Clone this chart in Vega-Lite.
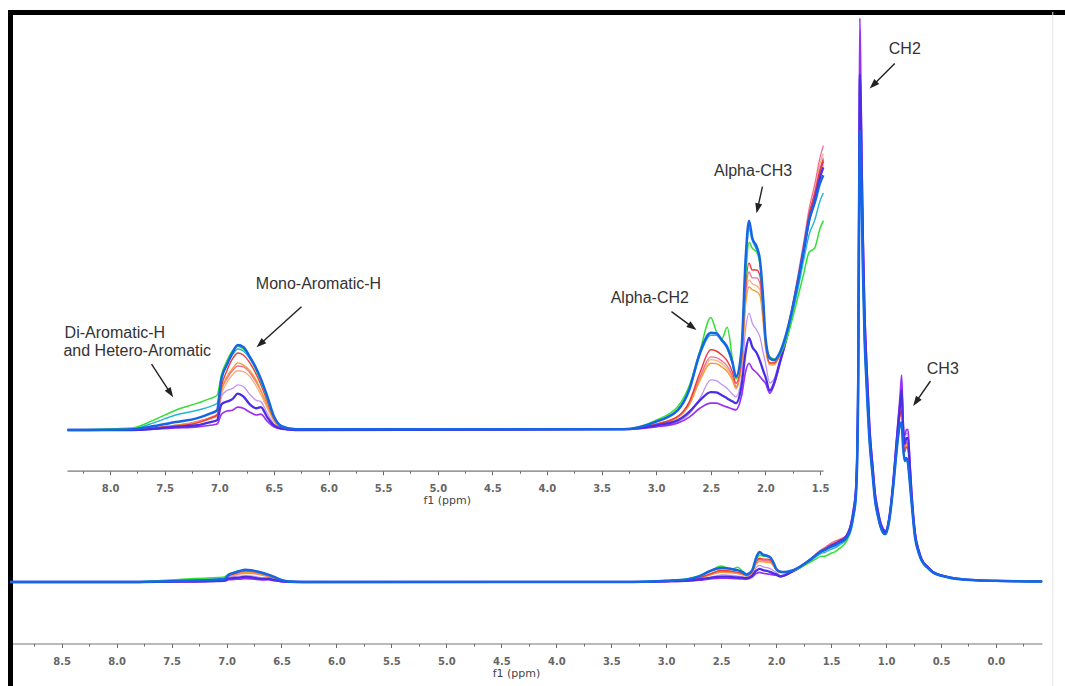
{
"$schema":"https://vega.github.io/schema/vega-lite/v6.json",
"width":1055,"height":674,
"autosize":{"type":"none"},
"padding":{"left":10,"top":12,"right":0,"bottom":0},
"background":"white",
"config":{"view":{"stroke":null},"axis":{"grid":false}},
"datasets":{
"spec":[
{"s":"a","x":8.97,"y":0},{"s":"a","x":8.39,"y":0},{"s":"a","x":7.8,"y":0},{"s":"a","x":7.6,"y":0.05},{"s":"a","x":7.4,"y":0.1},{"s":"a","x":7.2,"y":0.18},{"s":"a","x":7.08,"y":0.28},{"s":"a","x":7.02,"y":0.35},{"s":"a","x":6.98,"y":0.9},{"s":"a","x":6.93,"y":1.2},{"s":"a","x":6.88,"y":1.4},{"s":"a","x":6.83,"y":1.5},{"s":"a","x":6.78,"y":1.48},{"s":"a","x":6.72,"y":1.35},{"s":"a","x":6.66,"y":1.1},{"s":"a","x":6.62,"y":0.9},{"s":"a","x":6.56,"y":0.55},{"s":"a","x":6.5,"y":0.22},{"s":"a","x":6.43,"y":0.06},{"s":"a","x":6.3,"y":0},
{"s":"a","x":3.3,"y":0.02},{"s":"a","x":3.0,"y":0.14},{"s":"a","x":2.8,"y":0.33},{"s":"a","x":2.7,"y":0.64},{"s":"a","x":2.6,"y":1.3},{"s":"a","x":2.5,"y":1.78},{"s":"a","x":2.45,"y":1.76},{"s":"a","x":2.4,"y":1.68},{"s":"a","x":2.35,"y":1.55},{"s":"a","x":2.3,"y":1.3},{"s":"a","x":2.27,"y":1.08},{"s":"a","x":2.22,"y":1.65},{"s":"a","x":2.18,"y":3.35},{"s":"a","x":2.15,"y":3.8},{"s":"a","x":2.12,"y":3.7},{"s":"a","x":2.08,"y":3.65},{"s":"a","x":2.05,"y":3.55},{"s":"a","x":2.02,"y":2.8},{"s":"a","x":2.0,"y":2.15},{"s":"a","x":1.96,"y":1.68},{"s":"a","x":1.92,"y":1.68},{"s":"a","x":1.87,"y":1.9},{"s":"a","x":1.8,"y":2.5},{"s":"a","x":1.75,"y":3.15},{"s":"a","x":1.7,"y":3.9},{"s":"a","x":1.65,"y":4.65},{"s":"a","x":1.6,"y":5.5},{"s":"a","x":1.55,"y":6.05},{"s":"a","x":1.5,"y":6.75},{"s":"a","x":1.47,"y":7.0},
{"s":"a","x":1.42,"y":7.5},{"s":"a","x":1.36,"y":8.1},{"s":"a","x":1.32,"y":9.8},{"s":"a","x":1.295,"y":12.4},{"s":"a","x":1.275,"y":15.6},{"s":"a","x":1.262,"y":22.9},{"s":"a","x":1.253,"y":36.5},{"s":"a","x":1.246,"y":63},{"s":"a","x":1.238,"y":83},{"s":"a","x":1.23,"y":78.5},{"s":"a","x":1.22,"y":68.5},{"s":"a","x":1.21,"y":57},{"s":"a","x":1.195,"y":44.7},{"s":"a","x":1.177,"y":36.3},{"s":"a","x":1.15,"y":26},{"s":"a","x":1.12,"y":19.2},{"s":"a","x":1.1,"y":15},{"s":"a","x":1.075,"y":12.2},{"s":"a","x":1.05,"y":10.1},{"s":"a","x":1.02,"y":8.8},{"s":"a","x":1.005,"y":8.75},
{"s":"a","x":0.97,"y":11.2},{"s":"a","x":0.934,"y":17.4},{"s":"a","x":0.91,"y":22.8},{"s":"a","x":0.889,"y":27.3},{"s":"a","x":0.872,"y":30.4},{"s":"a","x":0.858,"y":32},{"s":"a","x":0.845,"y":26.9},{"s":"a","x":0.83,"y":23.6},{"s":"a","x":0.815,"y":24.6},{"s":"a","x":0.8,"y":24.1},{"s":"a","x":0.785,"y":19.9},{"s":"a","x":0.767,"y":15},{"s":"a","x":0.737,"y":8.5},{"s":"a","x":0.7,"y":5.2},{"s":"a","x":0.676,"y":3.9},{"s":"a","x":0.62,"y":2.55},{"s":"a","x":0.573,"y":1.75},{"s":"a","x":0.45,"y":0.92},{"s":"a","x":0.27,"y":0.41},{"s":"a","x":0,"y":0.2},{"s":"a","x":-0.42,"y":0.1},

{"s":"b","x":8.97,"y":0},{"s":"b","x":8.39,"y":0},{"s":"b","x":7.8,"y":0},{"s":"b","x":7.6,"y":0.05},{"s":"b","x":7.4,"y":0.12},{"s":"b","x":7.2,"y":0.22},{"s":"b","x":7.08,"y":0.32},{"s":"b","x":7.02,"y":0.4},{"s":"b","x":6.98,"y":1.0},{"s":"b","x":6.93,"y":1.3},{"s":"b","x":6.88,"y":1.5},{"s":"b","x":6.83,"y":1.62},{"s":"b","x":6.78,"y":1.6},{"s":"b","x":6.72,"y":1.45},{"s":"b","x":6.66,"y":1.2},{"s":"b","x":6.62,"y":1.0},{"s":"b","x":6.56,"y":0.62},{"s":"b","x":6.5,"y":0.3},{"s":"b","x":6.43,"y":0.1},{"s":"b","x":6.3,"y":0},
{"s":"b","x":3.3,"y":0.02},{"s":"b","x":3.0,"y":0.15},{"s":"b","x":2.8,"y":0.34},{"s":"b","x":2.7,"y":0.66},{"s":"b","x":2.6,"y":1.35},{"s":"b","x":2.5,"y":1.85},{"s":"b","x":2.45,"y":1.83},{"s":"b","x":2.4,"y":1.75},{"s":"b","x":2.35,"y":1.62},{"s":"b","x":2.3,"y":1.35},{"s":"b","x":2.27,"y":1.1},{"s":"b","x":2.22,"y":1.7},{"s":"b","x":2.18,"y":3.5},{"s":"b","x":2.15,"y":4.0},{"s":"b","x":2.12,"y":3.85},{"s":"b","x":2.08,"y":3.85},{"s":"b","x":2.05,"y":3.7},{"s":"b","x":2.02,"y":2.85},{"s":"b","x":2.0,"y":2.2},{"s":"b","x":1.96,"y":1.7},{"s":"b","x":1.92,"y":1.7},{"s":"b","x":1.87,"y":1.9},{"s":"b","x":1.8,"y":2.55},{"s":"b","x":1.75,"y":3.2},{"s":"b","x":1.7,"y":3.95},{"s":"b","x":1.65,"y":4.75},{"s":"b","x":1.6,"y":5.6},{"s":"b","x":1.55,"y":6.2},{"s":"b","x":1.5,"y":6.9},{"s":"b","x":1.47,"y":7.2},
{"s":"b","x":1.42,"y":7.6},{"s":"b","x":1.36,"y":8.2},{"s":"b","x":1.32,"y":9.9},{"s":"b","x":1.295,"y":12.5},{"s":"b","x":1.275,"y":15.7},{"s":"b","x":1.262,"y":23.1},{"s":"b","x":1.253,"y":36.8},{"s":"b","x":1.246,"y":63.5},{"s":"b","x":1.238,"y":84},{"s":"b","x":1.23,"y":79},{"s":"b","x":1.22,"y":69},{"s":"b","x":1.21,"y":57.3},{"s":"b","x":1.195,"y":45},{"s":"b","x":1.177,"y":36.5},{"s":"b","x":1.15,"y":26.1},{"s":"b","x":1.12,"y":19.3},{"s":"b","x":1.1,"y":15.1},{"s":"b","x":1.075,"y":12.3},{"s":"b","x":1.05,"y":10.2},{"s":"b","x":1.02,"y":8.9},{"s":"b","x":1.005,"y":8.8},
{"s":"b","x":0.97,"y":11.3},{"s":"b","x":0.934,"y":17.5},{"s":"b","x":0.91,"y":22.9},{"s":"b","x":0.889,"y":27.4},{"s":"b","x":0.872,"y":30.6},{"s":"b","x":0.858,"y":32.3},{"s":"b","x":0.845,"y":27},{"s":"b","x":0.83,"y":23.7},{"s":"b","x":0.815,"y":24.8},{"s":"b","x":0.8,"y":24.3},{"s":"b","x":0.785,"y":20},{"s":"b","x":0.767,"y":15.1},{"s":"b","x":0.737,"y":8.5},{"s":"b","x":0.7,"y":5.25},{"s":"b","x":0.676,"y":3.9},{"s":"b","x":0.62,"y":2.55},{"s":"b","x":0.573,"y":1.75},{"s":"b","x":0.45,"y":0.92},{"s":"b","x":0.27,"y":0.41},{"s":"b","x":0,"y":0.2},{"s":"b","x":-0.42,"y":0.1},

{"s":"c","x":8.97,"y":0},{"s":"c","x":8.39,"y":0},{"s":"c","x":7.8,"y":0},{"s":"c","x":7.6,"y":0.03},{"s":"c","x":7.4,"y":0.08},{"s":"c","x":7.2,"y":0.12},{"s":"c","x":7.08,"y":0.2},{"s":"c","x":7.02,"y":0.25},{"s":"c","x":6.98,"y":0.85},{"s":"c","x":6.93,"y":1.0},{"s":"c","x":6.88,"y":1.05},{"s":"c","x":6.83,"y":1.14},{"s":"c","x":6.78,"y":1.1},{"s":"c","x":6.72,"y":0.9},{"s":"c","x":6.66,"y":0.75},{"s":"c","x":6.62,"y":0.72},{"s":"c","x":6.56,"y":0.42},{"s":"c","x":6.5,"y":0.15},{"s":"c","x":6.43,"y":0.04},{"s":"c","x":6.3,"y":0},
{"s":"c","x":3.3,"y":0.02},{"s":"c","x":3.0,"y":0.1},{"s":"c","x":2.8,"y":0.22},{"s":"c","x":2.7,"y":0.4},{"s":"c","x":2.6,"y":0.8},{"s":"c","x":2.5,"y":1.27},{"s":"c","x":2.45,"y":1.25},{"s":"c","x":2.4,"y":1.15},{"s":"c","x":2.35,"y":1.05},{"s":"c","x":2.3,"y":0.9},{"s":"c","x":2.27,"y":0.84},{"s":"c","x":2.22,"y":1.3},{"s":"c","x":2.18,"y":2.6},{"s":"c","x":2.15,"y":2.96},{"s":"c","x":2.12,"y":2.7},{"s":"c","x":2.08,"y":2.53},{"s":"c","x":2.05,"y":2.35},{"s":"c","x":2.02,"y":1.95},{"s":"c","x":2.0,"y":1.7},{"s":"c","x":1.96,"y":1.19},{"s":"c","x":1.92,"y":1.3},{"s":"c","x":1.87,"y":1.75},{"s":"c","x":1.8,"y":2.45},{"s":"c","x":1.75,"y":3.1},{"s":"c","x":1.7,"y":3.8},{"s":"c","x":1.65,"y":4.55},{"s":"c","x":1.6,"y":5.4},{"s":"c","x":1.55,"y":5.9},{"s":"c","x":1.5,"y":6.55},{"s":"c","x":1.47,"y":6.9},
{"s":"c","x":1.42,"y":7.4},{"s":"c","x":1.36,"y":8.2},{"s":"c","x":1.32,"y":10.2},{"s":"c","x":1.295,"y":12.9},{"s":"c","x":1.275,"y":16.3},{"s":"c","x":1.262,"y":24},{"s":"c","x":1.253,"y":39},{"s":"c","x":1.246,"y":69},{"s":"c","x":1.238,"y":93},{"s":"c","x":1.23,"y":86.5},{"s":"c","x":1.22,"y":74},{"s":"c","x":1.21,"y":61.5},{"s":"c","x":1.195,"y":48},{"s":"c","x":1.177,"y":38.8},{"s":"c","x":1.15,"y":27.5},{"s":"c","x":1.12,"y":20.2},{"s":"c","x":1.1,"y":15.7},{"s":"c","x":1.075,"y":12.7},{"s":"c","x":1.05,"y":10.5},{"s":"c","x":1.02,"y":9.2},{"s":"c","x":1.005,"y":9.0},
{"s":"c","x":0.97,"y":11.5},{"s":"c","x":0.934,"y":17.9},{"s":"c","x":0.91,"y":23.7},{"s":"c","x":0.889,"y":28.5},{"s":"c","x":0.872,"y":32.2},{"s":"c","x":0.858,"y":35.2},{"s":"c","x":0.845,"y":28.3},{"s":"c","x":0.83,"y":25.3},{"s":"c","x":0.815,"y":26.3},{"s":"c","x":0.8,"y":26.3},{"s":"c","x":0.785,"y":21.5},{"s":"c","x":0.767,"y":15.7},{"s":"c","x":0.737,"y":8.8},{"s":"c","x":0.7,"y":5.4},{"s":"c","x":0.676,"y":4.05},{"s":"c","x":0.62,"y":2.65},{"s":"c","x":0.573,"y":1.8},{"s":"c","x":0.45,"y":0.95},{"s":"c","x":0.27,"y":0.42},{"s":"c","x":0,"y":0.2},{"s":"c","x":-0.42,"y":0.1},

{"s":"d","x":8.97,"y":0},{"s":"d","x":8.39,"y":0},{"s":"d","x":7.8,"y":0},{"s":"d","x":7.6,"y":0.02},{"s":"d","x":7.4,"y":0.05},{"s":"d","x":7.2,"y":0.08},{"s":"d","x":7.08,"y":0.12},{"s":"d","x":7.02,"y":0.15},{"s":"d","x":6.98,"y":0.4},{"s":"d","x":6.93,"y":0.48},{"s":"d","x":6.88,"y":0.5},{"s":"d","x":6.83,"y":0.58},{"s":"d","x":6.78,"y":0.55},{"s":"d","x":6.72,"y":0.45},{"s":"d","x":6.66,"y":0.38},{"s":"d","x":6.62,"y":0.4},{"s":"d","x":6.56,"y":0.22},{"s":"d","x":6.5,"y":0.08},{"s":"d","x":6.43,"y":0.02},{"s":"d","x":6.3,"y":0},
{"s":"d","x":3.3,"y":0.02},{"s":"d","x":3.0,"y":0.08},{"s":"d","x":2.8,"y":0.18},{"s":"d","x":2.7,"y":0.32},{"s":"d","x":2.6,"y":0.55},{"s":"d","x":2.5,"y":0.68},{"s":"d","x":2.45,"y":0.68},{"s":"d","x":2.4,"y":0.63},{"s":"d","x":2.35,"y":0.58},{"s":"d","x":2.3,"y":0.53},{"s":"d","x":2.27,"y":0.51},{"s":"d","x":2.22,"y":0.85},{"s":"d","x":2.18,"y":1.5},{"s":"d","x":2.15,"y":1.69},{"s":"d","x":2.12,"y":1.55},{"s":"d","x":2.08,"y":1.45},{"s":"d","x":2.05,"y":1.35},{"s":"d","x":2.02,"y":1.25},{"s":"d","x":2.0,"y":1.19},{"s":"d","x":1.96,"y":0.93},{"s":"d","x":1.92,"y":1.15},{"s":"d","x":1.87,"y":1.65},{"s":"d","x":1.8,"y":2.4},{"s":"d","x":1.75,"y":3.1},{"s":"d","x":1.7,"y":3.8},{"s":"d","x":1.65,"y":4.6},{"s":"d","x":1.6,"y":5.4},{"s":"d","x":1.55,"y":5.95},{"s":"d","x":1.5,"y":6.5},{"s":"d","x":1.47,"y":6.8},
{"s":"d","x":1.42,"y":7.3},{"s":"d","x":1.36,"y":8.3},{"s":"d","x":1.32,"y":10.3},{"s":"d","x":1.295,"y":13.1},{"s":"d","x":1.275,"y":16.6},{"s":"d","x":1.262,"y":24.5},{"s":"d","x":1.253,"y":40},{"s":"d","x":1.246,"y":72},{"s":"d","x":1.238,"y":100},{"s":"d","x":1.23,"y":90},{"s":"d","x":1.22,"y":76},{"s":"d","x":1.21,"y":63},{"s":"d","x":1.195,"y":49},{"s":"d","x":1.177,"y":39.5},{"s":"d","x":1.15,"y":28},{"s":"d","x":1.12,"y":20.5},{"s":"d","x":1.1,"y":16},{"s":"d","x":1.075,"y":13},{"s":"d","x":1.05,"y":10.7},{"s":"d","x":1.02,"y":9.3},{"s":"d","x":1.005,"y":9.1},
{"s":"d","x":0.97,"y":11.6},{"s":"d","x":0.934,"y":18},{"s":"d","x":0.91,"y":24},{"s":"d","x":0.889,"y":29},{"s":"d","x":0.872,"y":33},{"s":"d","x":0.858,"y":36.7},{"s":"d","x":0.845,"y":29},{"s":"d","x":0.83,"y":26},{"s":"d","x":0.815,"y":27},{"s":"d","x":0.8,"y":27},{"s":"d","x":0.785,"y":22},{"s":"d","x":0.767,"y":16},{"s":"d","x":0.737,"y":9},{"s":"d","x":0.7,"y":5.5},{"s":"d","x":0.676,"y":4.1},{"s":"d","x":0.62,"y":2.7},{"s":"d","x":0.573,"y":1.8},{"s":"d","x":0.45,"y":0.95},{"s":"d","x":0.27,"y":0.42},{"s":"d","x":0,"y":0.2},{"s":"d","x":-0.42,"y":0.1},

{"s":"e","x":8.97,"y":0},{"s":"e","x":8.39,"y":0},{"s":"e","x":7.8,"y":0},{"s":"e","x":7.6,"y":0.05},{"s":"e","x":7.4,"y":0.12},{"s":"e","x":7.2,"y":0.2},{"s":"e","x":7.08,"y":0.3},{"s":"e","x":7.02,"y":0.36},{"s":"e","x":6.98,"y":1.0},{"s":"e","x":6.93,"y":1.35},{"s":"e","x":6.88,"y":1.55},{"s":"e","x":6.83,"y":1.7},{"s":"e","x":6.78,"y":1.65},{"s":"e","x":6.72,"y":1.5},{"s":"e","x":6.66,"y":1.25},{"s":"e","x":6.62,"y":1.0},{"s":"e","x":6.56,"y":0.62},{"s":"e","x":6.5,"y":0.25},{"s":"e","x":6.43,"y":0.06},{"s":"e","x":6.3,"y":0},
{"s":"e","x":3.3,"y":0.02},{"s":"e","x":3.0,"y":0.14},{"s":"e","x":2.8,"y":0.32},{"s":"e","x":2.7,"y":0.62},{"s":"e","x":2.6,"y":1.25},{"s":"e","x":2.5,"y":1.69},{"s":"e","x":2.45,"y":1.68},{"s":"e","x":2.4,"y":1.6},{"s":"e","x":2.35,"y":1.48},{"s":"e","x":2.3,"y":1.25},{"s":"e","x":2.27,"y":1.05},{"s":"e","x":2.22,"y":1.6},{"s":"e","x":2.18,"y":3.2},{"s":"e","x":2.15,"y":3.62},{"s":"e","x":2.12,"y":3.55},{"s":"e","x":2.08,"y":3.5},{"s":"e","x":2.05,"y":3.4},{"s":"e","x":2.02,"y":2.7},{"s":"e","x":2.0,"y":2.1},{"s":"e","x":1.96,"y":1.65},{"s":"e","x":1.92,"y":1.65},{"s":"e","x":1.87,"y":1.88},{"s":"e","x":1.8,"y":2.5},{"s":"e","x":1.75,"y":3.1},{"s":"e","x":1.7,"y":3.8},{"s":"e","x":1.65,"y":4.55},{"s":"e","x":1.6,"y":5.35},{"s":"e","x":1.55,"y":5.85},{"s":"e","x":1.5,"y":6.45},{"s":"e","x":1.47,"y":6.7},
{"s":"e","x":1.42,"y":7.2},{"s":"e","x":1.36,"y":8.0},{"s":"e","x":1.32,"y":9.7},{"s":"e","x":1.295,"y":12.3},{"s":"e","x":1.275,"y":15.4},{"s":"e","x":1.262,"y":22.7},{"s":"e","x":1.253,"y":36},{"s":"e","x":1.246,"y":62},{"s":"e","x":1.238,"y":82},{"s":"e","x":1.23,"y":77.5},{"s":"e","x":1.22,"y":67.5},{"s":"e","x":1.21,"y":56.3},{"s":"e","x":1.195,"y":44.1},{"s":"e","x":1.177,"y":35.8},{"s":"e","x":1.15,"y":25.7},{"s":"e","x":1.12,"y":19},{"s":"e","x":1.1,"y":14.9},{"s":"e","x":1.075,"y":12.1},{"s":"e","x":1.05,"y":10.0},{"s":"e","x":1.02,"y":8.8},{"s":"e","x":1.005,"y":8.7},
{"s":"e","x":0.97,"y":11.2},{"s":"e","x":0.934,"y":17.4},{"s":"e","x":0.91,"y":22.7},{"s":"e","x":0.889,"y":27.2},{"s":"e","x":0.872,"y":30.3},{"s":"e","x":0.858,"y":31.9},{"s":"e","x":0.845,"y":26.8},{"s":"e","x":0.83,"y":23.5},{"s":"e","x":0.815,"y":24.5},{"s":"e","x":0.8,"y":24},{"s":"e","x":0.785,"y":19.8},{"s":"e","x":0.767,"y":15},{"s":"e","x":0.737,"y":8.5},{"s":"e","x":0.7,"y":5.2},{"s":"e","x":0.676,"y":3.9},{"s":"e","x":0.62,"y":2.55},{"s":"e","x":0.573,"y":1.75},{"s":"e","x":0.45,"y":0.92},{"s":"e","x":0.27,"y":0.41},{"s":"e","x":0,"y":0.2},{"s":"e","x":-0.42,"y":0.1},

{"s":"f","x":8.97,"y":0},{"s":"f","x":8.39,"y":0},{"s":"f","x":7.8,"y":0},{"s":"f","x":7.6,"y":0.05},{"s":"f","x":7.4,"y":0.1},{"s":"f","x":7.2,"y":0.18},{"s":"f","x":7.08,"y":0.3},{"s":"f","x":7.02,"y":0.38},{"s":"f","x":6.98,"y":1.1},{"s":"f","x":6.93,"y":1.5},{"s":"f","x":6.88,"y":1.8},{"s":"f","x":6.83,"y":1.95},{"s":"f","x":6.78,"y":1.9},{"s":"f","x":6.72,"y":1.7},{"s":"f","x":6.66,"y":1.4},{"s":"f","x":6.62,"y":1.15},{"s":"f","x":6.56,"y":0.72},{"s":"f","x":6.5,"y":0.3},{"s":"f","x":6.43,"y":0.08},{"s":"f","x":6.3,"y":0},
{"s":"f","x":3.3,"y":0.02},{"s":"f","x":3.0,"y":0.15},{"s":"f","x":2.8,"y":0.35},{"s":"f","x":2.7,"y":0.7},{"s":"f","x":2.6,"y":1.45},{"s":"f","x":2.5,"y":2.03},{"s":"f","x":2.45,"y":2.0},{"s":"f","x":2.4,"y":1.9},{"s":"f","x":2.35,"y":1.75},{"s":"f","x":2.3,"y":1.45},{"s":"f","x":2.27,"y":1.18},{"s":"f","x":2.22,"y":1.8},{"s":"f","x":2.18,"y":3.7},{"s":"f","x":2.15,"y":4.22},{"s":"f","x":2.12,"y":4.05},{"s":"f","x":2.08,"y":4.05},{"s":"f","x":2.05,"y":3.9},{"s":"f","x":2.02,"y":3.0},{"s":"f","x":2.0,"y":2.28},{"s":"f","x":1.96,"y":1.7},{"s":"f","x":1.92,"y":1.7},{"s":"f","x":1.87,"y":1.9},{"s":"f","x":1.8,"y":2.5},{"s":"f","x":1.75,"y":3.15},{"s":"f","x":1.7,"y":3.85},{"s":"f","x":1.65,"y":4.6},{"s":"f","x":1.6,"y":5.45},{"s":"f","x":1.55,"y":5.95},{"s":"f","x":1.5,"y":6.6},{"s":"f","x":1.47,"y":6.85},
{"s":"f","x":1.42,"y":7.4},{"s":"f","x":1.36,"y":8.1},{"s":"f","x":1.32,"y":9.8},{"s":"f","x":1.295,"y":12.4},{"s":"f","x":1.275,"y":15.5},{"s":"f","x":1.262,"y":22.8},{"s":"f","x":1.253,"y":36.2},{"s":"f","x":1.246,"y":62.5},{"s":"f","x":1.238,"y":82},{"s":"f","x":1.23,"y":77.5},{"s":"f","x":1.22,"y":68},{"s":"f","x":1.21,"y":56.5},{"s":"f","x":1.195,"y":44.3},{"s":"f","x":1.177,"y":36},{"s":"f","x":1.15,"y":25.8},{"s":"f","x":1.12,"y":19.1},{"s":"f","x":1.1,"y":15},{"s":"f","x":1.075,"y":12.2},{"s":"f","x":1.05,"y":10.1},{"s":"f","x":1.02,"y":8.8},{"s":"f","x":1.005,"y":8.7},
{"s":"f","x":0.97,"y":11.2},{"s":"f","x":0.934,"y":17.3},{"s":"f","x":0.91,"y":22.5},{"s":"f","x":0.889,"y":26.8},{"s":"f","x":0.872,"y":29.5},{"s":"f","x":0.858,"y":30.5},{"s":"f","x":0.845,"y":26},{"s":"f","x":0.83,"y":23},{"s":"f","x":0.815,"y":24},{"s":"f","x":0.8,"y":23.5},{"s":"f","x":0.785,"y":19.5},{"s":"f","x":0.767,"y":14.8},{"s":"f","x":0.737,"y":8.4},{"s":"f","x":0.7,"y":5.2},{"s":"f","x":0.676,"y":3.9},{"s":"f","x":0.62,"y":2.55},{"s":"f","x":0.573,"y":1.75},{"s":"f","x":0.45,"y":0.92},{"s":"f","x":0.27,"y":0.41},{"s":"f","x":0,"y":0.2},{"s":"f","x":-0.42,"y":0.1},

{"s":"g","x":8.97,"y":0},{"s":"g","x":8.39,"y":0},{"s":"g","x":7.8,"y":0},{"s":"g","x":7.6,"y":0.03},{"s":"g","x":7.4,"y":0.08},{"s":"g","x":7.2,"y":0.12},{"s":"g","x":7.08,"y":0.2},{"s":"g","x":7.02,"y":0.25},{"s":"g","x":6.98,"y":0.65},{"s":"g","x":6.93,"y":0.72},{"s":"g","x":6.88,"y":0.78},{"s":"g","x":6.83,"y":0.92},{"s":"g","x":6.78,"y":0.85},{"s":"g","x":6.72,"y":0.65},{"s":"g","x":6.66,"y":0.55},{"s":"g","x":6.62,"y":0.58},{"s":"g","x":6.56,"y":0.32},{"s":"g","x":6.5,"y":0.12},{"s":"g","x":6.43,"y":0.04},{"s":"g","x":6.3,"y":0},
{"s":"g","x":3.3,"y":0.02},{"s":"g","x":3.0,"y":0.12},{"s":"g","x":2.8,"y":0.25},{"s":"g","x":2.7,"y":0.45},{"s":"g","x":2.6,"y":0.75},{"s":"g","x":2.5,"y":0.96},{"s":"g","x":2.45,"y":0.95},{"s":"g","x":2.4,"y":0.88},{"s":"g","x":2.35,"y":0.8},{"s":"g","x":2.3,"y":0.72},{"s":"g","x":2.27,"y":0.68},{"s":"g","x":2.22,"y":1.1},{"s":"g","x":2.18,"y":2.0},{"s":"g","x":2.15,"y":2.33},{"s":"g","x":2.12,"y":2.1},{"s":"g","x":2.08,"y":1.95},{"s":"g","x":2.05,"y":1.75},{"s":"g","x":2.02,"y":1.5},{"s":"g","x":2.0,"y":1.35},{"s":"g","x":1.96,"y":1.0},{"s":"g","x":1.92,"y":1.2},{"s":"g","x":1.87,"y":1.7},{"s":"g","x":1.8,"y":2.4},{"s":"g","x":1.75,"y":3.05},{"s":"g","x":1.7,"y":3.75},{"s":"g","x":1.65,"y":4.5},{"s":"g","x":1.6,"y":5.3},{"s":"g","x":1.55,"y":5.8},{"s":"g","x":1.5,"y":6.4},{"s":"g","x":1.47,"y":6.65},
{"s":"g","x":1.42,"y":7.2},{"s":"g","x":1.36,"y":8.1},{"s":"g","x":1.32,"y":10},{"s":"g","x":1.295,"y":12.7},{"s":"g","x":1.275,"y":16},{"s":"g","x":1.262,"y":23.5},{"s":"g","x":1.253,"y":38},{"s":"g","x":1.246,"y":66},{"s":"g","x":1.238,"y":90},{"s":"g","x":1.23,"y":84},{"s":"g","x":1.22,"y":72},{"s":"g","x":1.21,"y":60},{"s":"g","x":1.195,"y":47},{"s":"g","x":1.177,"y":38},{"s":"g","x":1.15,"y":27},{"s":"g","x":1.12,"y":19.8},{"s":"g","x":1.1,"y":15.4},{"s":"g","x":1.075,"y":12.5},{"s":"g","x":1.05,"y":10.3},{"s":"g","x":1.02,"y":9.0},{"s":"g","x":1.005,"y":8.9},
{"s":"g","x":0.97,"y":11.5},{"s":"g","x":0.934,"y":17.8},{"s":"g","x":0.91,"y":23.3},{"s":"g","x":0.889,"y":28},{"s":"g","x":0.872,"y":31.5},{"s":"g","x":0.858,"y":34},{"s":"g","x":0.845,"y":27.5},{"s":"g","x":0.83,"y":24.5},{"s":"g","x":0.815,"y":25.5},{"s":"g","x":0.8,"y":25.5},{"s":"g","x":0.785,"y":21},{"s":"g","x":0.767,"y":15.5},{"s":"g","x":0.737,"y":8.7},{"s":"g","x":0.7,"y":5.4},{"s":"g","x":0.676,"y":4.0},{"s":"g","x":0.62,"y":2.65},{"s":"g","x":0.573,"y":1.8},{"s":"g","x":0.45,"y":0.95},{"s":"g","x":0.27,"y":0.42},{"s":"g","x":0,"y":0.2},{"s":"g","x":-0.42,"y":0.1},

{"s":"h","x":8.97,"y":0},{"s":"h","x":8.39,"y":0},{"s":"h","x":7.8,"y":0.03},{"s":"h","x":7.6,"y":0.18},{"s":"h","x":7.4,"y":0.38},{"s":"h","x":7.2,"y":0.5},{"s":"h","x":7.08,"y":0.6},{"s":"h","x":7.02,"y":0.68},{"s":"h","x":6.98,"y":1.3},{"s":"h","x":6.93,"y":1.65},{"s":"h","x":6.88,"y":1.9},{"s":"h","x":6.83,"y":2.05},{"s":"h","x":6.78,"y":2.0},{"s":"h","x":6.72,"y":1.8},{"s":"h","x":6.66,"y":1.5},{"s":"h","x":6.62,"y":1.25},{"s":"h","x":6.56,"y":0.8},{"s":"h","x":6.5,"y":0.33},{"s":"h","x":6.43,"y":0.1},{"s":"h","x":6.3,"y":0.02},
{"s":"h","x":3.3,"y":0.02},{"s":"h","x":3.0,"y":0.22},{"s":"h","x":2.8,"y":0.52},{"s":"h","x":2.7,"y":1.0},{"s":"h","x":2.6,"y":1.9},{"s":"h","x":2.5,"y":2.4},{"s":"h","x":2.45,"y":2.4},{"s":"h","x":2.4,"y":2.25},{"s":"h","x":2.35,"y":2.05},{"s":"h","x":2.3,"y":1.65},{"s":"h","x":2.27,"y":1.3},{"s":"h","x":2.22,"y":1.95},{"s":"h","x":2.18,"y":4.2},{"s":"h","x":2.15,"y":5.1},{"s":"h","x":2.12,"y":4.8},{"s":"h","x":2.08,"y":4.55},{"s":"h","x":2.05,"y":4.25},{"s":"h","x":2.02,"y":3.25},{"s":"h","x":2.0,"y":2.3},{"s":"h","x":1.96,"y":1.8},{"s":"h","x":1.92,"y":1.75},{"s":"h","x":1.87,"y":1.9},{"s":"h","x":1.8,"y":2.45},{"s":"h","x":1.75,"y":3.0},{"s":"h","x":1.7,"y":3.6},{"s":"h","x":1.65,"y":4.3},{"s":"h","x":1.6,"y":4.95},{"s":"h","x":1.55,"y":5.3},{"s":"h","x":1.5,"y":5.8},{"s":"h","x":1.47,"y":6.0},
{"s":"h","x":1.42,"y":6.6},{"s":"h","x":1.36,"y":7.5},{"s":"h","x":1.32,"y":9.3},{"s":"h","x":1.295,"y":11.8},{"s":"h","x":1.275,"y":14.8},{"s":"h","x":1.262,"y":21.8},{"s":"h","x":1.253,"y":34.5},{"s":"h","x":1.246,"y":59.5},{"s":"h","x":1.238,"y":80},{"s":"h","x":1.23,"y":75.5},{"s":"h","x":1.22,"y":65.5},{"s":"h","x":1.21,"y":54.5},{"s":"h","x":1.195,"y":42.8},{"s":"h","x":1.177,"y":34.8},{"s":"h","x":1.15,"y":24.8},{"s":"h","x":1.12,"y":18.4},{"s":"h","x":1.1,"y":14.4},{"s":"h","x":1.075,"y":11.7},{"s":"h","x":1.05,"y":9.7},{"s":"h","x":1.02,"y":8.5},{"s":"h","x":1.005,"y":8.45},
{"s":"h","x":0.97,"y":10.9},{"s":"h","x":0.934,"y":16.9},{"s":"h","x":0.91,"y":21.9},{"s":"h","x":0.889,"y":25.8},{"s":"h","x":0.872,"y":27.8},{"s":"h","x":0.858,"y":28},{"s":"h","x":0.845,"y":23.8},{"s":"h","x":0.83,"y":21.4},{"s":"h","x":0.815,"y":21.9},{"s":"h","x":0.8,"y":20.9},{"s":"h","x":0.785,"y":17.9},{"s":"h","x":0.767,"y":13.9},{"s":"h","x":0.737,"y":7.9},{"s":"h","x":0.7,"y":4.9},{"s":"h","x":0.676,"y":3.7},{"s":"h","x":0.62,"y":2.45},{"s":"h","x":0.573,"y":1.65},{"s":"h","x":0.45,"y":0.88},{"s":"h","x":0.27,"y":0.4},{"s":"h","x":0,"y":0.2},{"s":"h","x":-0.42,"y":0.1},

{"s":"i","x":8.97,"y":0},{"s":"i","x":8.39,"y":0},{"s":"i","x":7.8,"y":0.05},{"s":"i","x":7.6,"y":0.25},{"s":"i","x":7.4,"y":0.5},{"s":"i","x":7.2,"y":0.68},{"s":"i","x":7.08,"y":0.8},{"s":"i","x":7.02,"y":0.88},{"s":"i","x":6.98,"y":1.4},{"s":"i","x":6.93,"y":1.75},{"s":"i","x":6.88,"y":2.0},{"s":"i","x":6.83,"y":2.12},{"s":"i","x":6.78,"y":2.05},{"s":"i","x":6.72,"y":1.85},{"s":"i","x":6.66,"y":1.5},{"s":"i","x":6.62,"y":1.25},{"s":"i","x":6.56,"y":0.8},{"s":"i","x":6.5,"y":0.33},{"s":"i","x":6.43,"y":0.08},{"s":"i","x":6.3,"y":0.02},
{"s":"i","x":3.3,"y":0.02},{"s":"i","x":3.0,"y":0.25},{"s":"i","x":2.8,"y":0.6},{"s":"i","x":2.7,"y":1.1},{"s":"i","x":2.6,"y":2.0},{"s":"i","x":2.5,"y":2.85},{"s":"i","x":2.45,"y":2.5},{"s":"i","x":2.4,"y":2.3},{"s":"i","x":2.35,"y":2.6},{"s":"i","x":2.3,"y":1.75},{"s":"i","x":2.27,"y":1.3},{"s":"i","x":2.22,"y":2.0},{"s":"i","x":2.18,"y":3.9},{"s":"i","x":2.15,"y":4.75},{"s":"i","x":2.12,"y":4.6},{"s":"i","x":2.08,"y":4.5},{"s":"i","x":2.05,"y":4.2},{"s":"i","x":2.02,"y":3.2},{"s":"i","x":2.0,"y":2.3},{"s":"i","x":1.96,"y":1.85},{"s":"i","x":1.92,"y":1.8},{"s":"i","x":1.87,"y":1.9},{"s":"i","x":1.8,"y":2.35},{"s":"i","x":1.75,"y":2.85},{"s":"i","x":1.7,"y":3.4},{"s":"i","x":1.65,"y":3.95},{"s":"i","x":1.6,"y":4.5},{"s":"i","x":1.55,"y":4.6},{"s":"i","x":1.5,"y":5.1},{"s":"i","x":1.47,"y":5.3},
{"s":"i","x":1.42,"y":6.0},{"s":"i","x":1.36,"y":7.2},{"s":"i","x":1.32,"y":9.1},{"s":"i","x":1.295,"y":11.6},{"s":"i","x":1.275,"y":14.6},{"s":"i","x":1.262,"y":21.5},{"s":"i","x":1.253,"y":34},{"s":"i","x":1.246,"y":59},{"s":"i","x":1.238,"y":79},{"s":"i","x":1.23,"y":75},{"s":"i","x":1.22,"y":65},{"s":"i","x":1.21,"y":54},{"s":"i","x":1.195,"y":42.5},{"s":"i","x":1.177,"y":34.5},{"s":"i","x":1.15,"y":24.7},{"s":"i","x":1.12,"y":18.3},{"s":"i","x":1.1,"y":14.3},{"s":"i","x":1.075,"y":11.7},{"s":"i","x":1.05,"y":9.7},{"s":"i","x":1.02,"y":8.5},{"s":"i","x":1.005,"y":8.4},
{"s":"i","x":0.97,"y":10.9},{"s":"i","x":0.934,"y":16.8},{"s":"i","x":0.91,"y":21.8},{"s":"i","x":0.889,"y":25.7},{"s":"i","x":0.872,"y":27.6},{"s":"i","x":0.858,"y":27.8},{"s":"i","x":0.845,"y":23.7},{"s":"i","x":0.83,"y":21.3},{"s":"i","x":0.815,"y":21.8},{"s":"i","x":0.8,"y":20.8},{"s":"i","x":0.785,"y":17.8},{"s":"i","x":0.767,"y":13.8},{"s":"i","x":0.737,"y":7.9},{"s":"i","x":0.7,"y":4.9},{"s":"i","x":0.676,"y":3.7},{"s":"i","x":0.62,"y":2.45},{"s":"i","x":0.573,"y":1.65},{"s":"i","x":0.45,"y":0.88},{"s":"i","x":0.27,"y":0.4},{"s":"i","x":0,"y":0.2},{"s":"i","x":-0.42,"y":0.1},

{"s":"j","x":8.97,"y":0},{"s":"j","x":8.39,"y":0},{"s":"j","x":7.8,"y":0.02},{"s":"j","x":7.6,"y":0.1},{"s":"j","x":7.4,"y":0.2},{"s":"j","x":7.2,"y":0.3},{"s":"j","x":7.08,"y":0.42},{"s":"j","x":7.02,"y":0.5},{"s":"j","x":6.98,"y":1.3},{"s":"j","x":6.93,"y":1.65},{"s":"j","x":6.88,"y":1.95},{"s":"j","x":6.83,"y":2.15},{"s":"j","x":6.78,"y":2.1},{"s":"j","x":6.72,"y":1.85},{"s":"j","x":6.66,"y":1.55},{"s":"j","x":6.62,"y":1.3},{"s":"j","x":6.56,"y":0.85},{"s":"j","x":6.5,"y":0.35},{"s":"j","x":6.43,"y":0.1},{"s":"j","x":6.3,"y":0.02},
{"s":"j","x":3.3,"y":0.02},{"s":"j","x":3.0,"y":0.21},{"s":"j","x":2.8,"y":0.51},{"s":"j","x":2.7,"y":1.0},{"s":"j","x":2.6,"y":1.95},{"s":"j","x":2.5,"y":2.46},{"s":"j","x":2.45,"y":2.45},{"s":"j","x":2.4,"y":2.28},{"s":"j","x":2.35,"y":2.1},{"s":"j","x":2.3,"y":1.69},{"s":"j","x":2.27,"y":1.35},{"s":"j","x":2.22,"y":2.0},{"s":"j","x":2.18,"y":4.4},{"s":"j","x":2.15,"y":5.3},{"s":"j","x":2.12,"y":4.85},{"s":"j","x":2.08,"y":4.64},{"s":"j","x":2.05,"y":4.3},{"s":"j","x":2.02,"y":3.29},{"s":"j","x":2.0,"y":2.36},{"s":"j","x":1.96,"y":1.82},{"s":"j","x":1.92,"y":1.77},{"s":"j","x":1.87,"y":1.95},{"s":"j","x":1.8,"y":2.53},{"s":"j","x":1.75,"y":3.12},{"s":"j","x":1.7,"y":3.8},{"s":"j","x":1.65,"y":4.56},{"s":"j","x":1.6,"y":5.32},{"s":"j","x":1.55,"y":5.74},{"s":"j","x":1.5,"y":6.25},{"s":"j","x":1.47,"y":6.45},
{"s":"j","x":1.42,"y":7.0},{"s":"j","x":1.36,"y":7.8},{"s":"j","x":1.32,"y":9.5},{"s":"j","x":1.295,"y":12},{"s":"j","x":1.275,"y":15},{"s":"j","x":1.262,"y":22},{"s":"j","x":1.253,"y":35},{"s":"j","x":1.246,"y":60},{"s":"j","x":1.238,"y":80},{"s":"j","x":1.23,"y":76},{"s":"j","x":1.22,"y":66},{"s":"j","x":1.21,"y":55},{"s":"j","x":1.195,"y":43},{"s":"j","x":1.177,"y":35},{"s":"j","x":1.15,"y":25},{"s":"j","x":1.12,"y":18.5},{"s":"j","x":1.1,"y":14.5},{"s":"j","x":1.075,"y":11.8},{"s":"j","x":1.05,"y":9.8},{"s":"j","x":1.02,"y":8.6},{"s":"j","x":1.005,"y":8.5},
{"s":"j","x":0.97,"y":11},{"s":"j","x":0.934,"y":17},{"s":"j","x":0.91,"y":22},{"s":"j","x":0.889,"y":26},{"s":"j","x":0.872,"y":28},{"s":"j","x":0.858,"y":28.3},{"s":"j","x":0.845,"y":24},{"s":"j","x":0.83,"y":21.5},{"s":"j","x":0.815,"y":22},{"s":"j","x":0.8,"y":21},{"s":"j","x":0.785,"y":18},{"s":"j","x":0.767,"y":14},{"s":"j","x":0.737,"y":8},{"s":"j","x":0.7,"y":5},{"s":"j","x":0.676,"y":3.8},{"s":"j","x":0.62,"y":2.5},{"s":"j","x":0.573,"y":1.7},{"s":"j","x":0.45,"y":0.9},{"s":"j","x":0.27,"y":0.4},{"s":"j","x":0,"y":0.2},{"s":"j","x":-0.42,"y":0.1}
],
"notes":[
{"t":"CH2","x":0.828,"y":94.45},
{"t":"CH3","x":0.482,"y":37.85},
{"t":"Alpha-CH3","x":2.208,"y":72.93},
{"t":"Alpha-CH2","x":3.148,"y":50.3},
{"t":"Mono-Aromatic-H","x":6.163,"y":52.84},
{"t":"Di-Aromatic-H","x":8.016,"y":44.2},
{"t":"and Hetero-Aromatic","x":7.812,"y":41.01}
],
"arrows":[
{"x":0.919,"y":91.93,"x2":1.115,"y2":88.12,"a":225},
{"x":0.594,"y":35.64,"x2":0.726,"y2":31.93,"a":215},
{"x":2.123,"y":70.09,"x2":2.167,"y2":66.24,"a":192.5},
{"x":2.951,"y":47.93,"x2":2.76,"y2":45.2,"a":126},
{"x":6.318,"y":48.81,"x2":6.693,"y2":42.21,"a":228},
{"x":7.682,"y":38.65,"x2":7.51,"y2":33.49,"a":147}
],
"edge":[{"x":-0.519}]
},
"layer":[
{
"data":{"name":"spec"},
"mark":{"type":"line","interpolate":"monotone","strokeJoin":"round"},
"encoding":{
"x":{"field":"x","type":"quantitative","scale":{"domain":[-0.419,8.97],"range":[1032,0],"nice":false,"zero":false},
"axis":{"orient":"bottom","offset":-42.5,"values":[-0.25,0,0.25,0.5,0.75,1,1.25,1.5,1.75,2,2.25,2.5,2.75,3,3.25,3.5,3.75,4,4.25,4.5,4.75,5,5.25,5.5,5.75,6,6.25,6.5,6.75,7,7.25,7.5,7.75,8,8.25,8.5,8.75],
"labelExpr":"datum.value % 0.5 === 0 ? format(datum.value, '.1f') : ''",
"tickSize":{"condition":{"test":"datum.value % 0.5 === 0","value":4},"value":2.5},
"tickColor":"#666","tickWidth":1,"domainColor":"#777","domainWidth":1.2,
"labelFont":"DejaVu Sans","labelFontSize":10,"labelFontWeight":"bold","labelColor":"#666","labelPadding":9,"labelOverlap":false,"labelFlush":false,"labelBound":false,
"title":"f1 (ppm)","titleFont":"DejaVu Sans","titleFontSize":11,"titleFontWeight":"normal","titleColor":"#444","titleX":506,"titleY":30,"titleBaseline":"middle","titleAlign":"center","grid":false}},
"y":{"field":"y","type":"quantitative","scale":{"domain":[-18.44,101.064],"nice":false,"zero":false},
"axis":{"orient":"left","domain":true,"domainColor":"#000","domainWidth":5,"domainCap":"square","ticks":false,"labels":false,"title":null,"grid":false}},
"color":{"field":"s","type":"nominal","scale":{"domain":["a","b","c","d","e","f","g","h","i","j"],"range":["#f7b07a","#f06e96","#bf94f5","#9b30f5","#f59a2c","#ee3a3a","#4a2ee6","#22b5d3","#33e033","#1565e6"]},"legend":null},
"strokeWidth":{"field":"s","type":"ordinal","scale":{"type":"ordinal","domain":["a","b","c","d","e","f","g","h","i","j"],"range":[1.3,1.3,1.3,1.7,1.3,1.4,2.3,1.4,1.5,2.5]},"legend":null}
}
},
{
"data":{"name":"spec"},
"transform":[{"filter":{"field":"x","range":[1.47,8.39]}}],
"mark":{"type":"line","interpolate":"monotone","strokeJoin":"round"},
"encoding":{
"x":{"field":"x","type":"quantitative","scale":{"domain":[1.473,8.394],"range":[813,57],"nice":false,"zero":false},
"axis":{"orient":"bottom","offset":-215.3,"values":[1.5,1.75,2,2.25,2.5,2.75,3,3.25,3.5,3.75,4,4.25,4.5,4.75,5,5.25,5.5,5.75,6,6.25,6.5,6.75,7,7.25,7.5,7.75,8,8.25],
"labelExpr":"datum.value % 0.5 === 0 ? format(datum.value, '.1f') : ''",
"tickSize":{"condition":{"test":"datum.value % 0.5 === 0","value":4},"value":2.5},
"tickColor":"#666","tickWidth":1,"domainColor":"#777","domainWidth":1.2,
"labelFont":"DejaVu Sans","labelFontSize":10,"labelFontWeight":"bold","labelColor":"#666","labelPadding":9,"labelOverlap":false,"labelFlush":false,"labelBound":false,
"title":"f1 (ppm)","titleFont":"DejaVu Sans","titleFontSize":11,"titleFontWeight":"normal","titleColor":"#444","titleX":436.7,"titleY":30,"titleBaseline":"middle","titleAlign":"center","grid":false}},
"y":{"field":"y","type":"quantitative","scale":{"domain":[-6.481,10.582],"nice":false,"zero":false},"axis":null},
"color":{"field":"s","type":"nominal","scale":{"domain":["a","b","c","d","e","f","g","h","i","j"],"range":["#f7b07a","#f06e96","#bf94f5","#9b30f5","#f59a2c","#ee3a3a","#4a2ee6","#22b5d3","#33e033","#1565e6"]},"legend":null},
"strokeWidth":{"field":"s","type":"ordinal","scale":{"type":"ordinal","domain":["a","b","c","d","e","f","g","h","i","j"],"range":[1.3,1.3,1.3,1.7,1.3,1.4,2.3,1.4,1.5,2.5]},"legend":null}
}
},
{
"layer":[
{
"data":{"name":"edge"},
"mark":{"type":"rule","color":"#e6e6e6","strokeWidth":1},
"encoding":{
"x":{"field":"x","type":"quantitative","scale":{"domain":[-0.63,8.97],"reverse":true,"nice":false,"zero":false},"axis":{"orient":"top","domain":true,"domainColor":"#000","domainWidth":5,"domainCap":"square","ticks":false,"labels":false,"title":null,"grid":false}}
}
},
{
"data":{"name":"notes"},
"mark":{"type":"text","font":"Liberation Sans","fontSize":16,"color":"#333","align":"center","baseline":"middle"},
"encoding":{
"x":{"field":"x","type":"quantitative","scale":{"domain":[-0.63,8.97],"reverse":true,"nice":false,"zero":false},"axis":{"orient":"top","domain":true,"domainColor":"#000","domainWidth":5,"domainCap":"square","ticks":false,"labels":false,"title":null,"grid":false}},
"y":{"field":"y","type":"quantitative","scale":{"domain":[-18.44,101.064],"nice":false,"zero":false},"axis":null},
"text":{"field":"t"}
}
},
{
"data":{"name":"arrows"},
"mark":{"type":"rule","color":"#222","strokeWidth":1.4},
"encoding":{
"x":{"field":"x","type":"quantitative","scale":{"domain":[-0.63,8.97],"reverse":true,"nice":false,"zero":false},"axis":{"orient":"top","domain":true,"domainColor":"#000","domainWidth":5,"domainCap":"square","ticks":false,"labels":false,"title":null,"grid":false}},
"y":{"field":"y","type":"quantitative","scale":{"domain":[-18.44,101.064],"nice":false,"zero":false},"axis":null},
"x2":{"field":"x2"},
"y2":{"field":"y2"}
}
},
{
"data":{"name":"arrows"},
"mark":{"type":"point","shape":"M0,-1L0.7,1L-0.7,1Z","filled":true,"color":"#222","opacity":1,"size":100},
"encoding":{
"x":{"field":"x2","type":"quantitative","scale":{"domain":[-0.63,8.97],"reverse":true,"nice":false,"zero":false},"axis":{"orient":"top","domain":true,"domainColor":"#000","domainWidth":5,"domainCap":"square","ticks":false,"labels":false,"title":null,"grid":false}},
"y":{"field":"y2","type":"quantitative","scale":{"domain":[-18.44,101.064],"nice":false,"zero":false},"axis":null},
"angle":{"field":"a","type":"quantitative","scale":null}
}
}
]
}
],
"resolve":{"scale":{"x":"independent","y":"independent"},"axis":{"x":"independent","y":"independent"}}
}
